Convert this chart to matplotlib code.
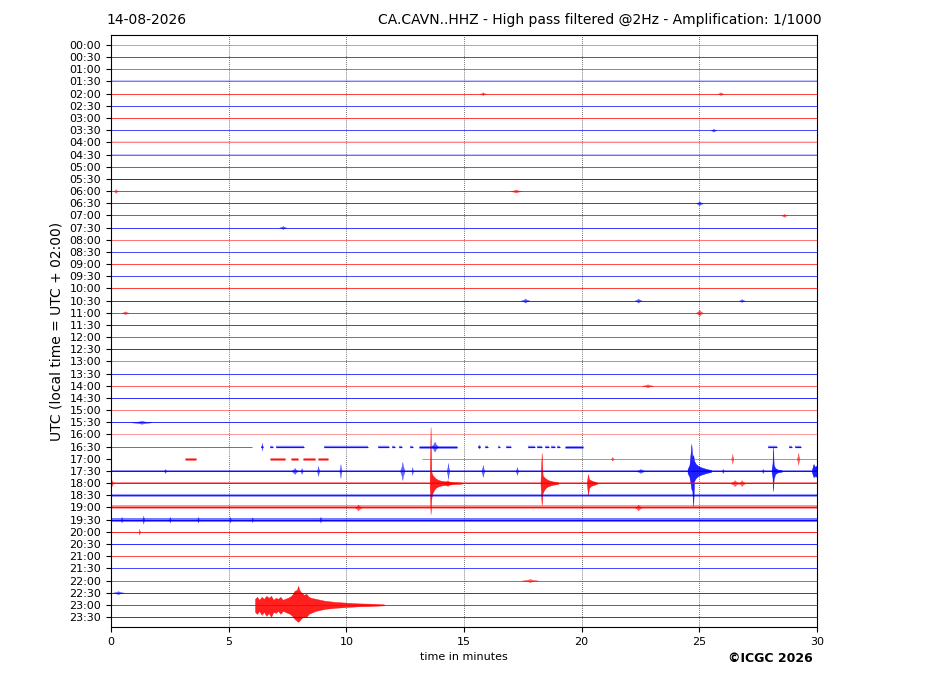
import matplotlib
matplotlib.use("Agg")
import matplotlib.pyplot as plt

# ---------------- data ----------------
date_label = "14-08-2026"
title_right = "CA.CAVN..HHZ - High pass filtered @2Hz - Amplification: 1/1000"
ylabel = "UTC (local time = UTC + 02:00)"
xlabel = "time in minutes"
credit = "\u00a9ICGC 2026"

trace_labels = ["%02d:%02d" % (h, m) for h in range(24) for m in (0, 30)]
x_ticks = [0, 5, 10, 15, 20, 25, 30]
trace_colors = ["#ff0000", "#0000ff"]

# per-trace visual strength of background noise (opacity) and noise level (px)
trace_alpha = [0.45, 0.7, 0.65, 0.4, 0.75, 0.7, 0.75, 0.7, 0.35, 0.45,
               0.8, 0.85, 0.8, 0.75, 0.8, 0.75, 0.55, 0.7, 0.7, 0.7,
               0.75, 0.8, 0.8, 0.75, 0.75, 0.8, 0.55, 0.75, 0.6, 0.8,
               0.5, 0.8, 0.4, 0.7, 0.6, 0.9, 0.9, 0.8, 0.9, 0.95,
               0.85, 0.8, 0.7, 0.7, 0.7, 0.8, 0.85, 0.8]
trace_noise = [0.6, 0.5, 0.6, 1.0, 0.6, 0.5, 0.6, 0.6, 1.0, 0.9,
               0.6, 0.5, 0.6, 0.6, 0.6, 0.6, 0.7, 0.5, 0.6, 0.5,
               0.6, 0.6, 0.6, 0.5, 0.6, 0.6, 0.7, 0.6, 0.7, 0.6,
               0.7, 0.6, 0.7, 0.5, 0.5, 0.9, 0.9, 1.4, 1.8, 2.0,
               0.7, 0.6, 0.6, 0.6, 0.7, 0.7, 0.7, 0.6]

# data segments for traces with gaps: (trace, start, end, noise px)
seg_trace = [33] * 23 + [34] * 6
seg_start = [0.0, 6.38, 6.75, 7.0, 9.05, 11.35, 11.95, 12.25, 12.7, 13.1,
             15.6, 15.9, 16.45, 16.8, 17.7, 18.1, 18.45, 18.7, 18.95, 19.3,
             27.9, 28.8, 29.05,
             3.15, 6.75, 7.65, 8.15, 8.8, 13.2]
seg_end = [6.0, 6.45, 6.9, 8.2, 10.9, 11.8, 12.05, 12.35, 12.85, 14.7,
           15.7, 16.0, 16.52, 17.0, 18.0, 18.3, 18.6, 18.85, 19.1, 20.05,
           28.3, 28.95, 29.3,
           3.6, 7.4, 7.95, 8.65, 9.2, 30.0]
seg_noise = [0.5, 1.2, 1.2, 1.2, 1.2, 1.2, 1.2, 1.2, 1.2, 1.4,
             1.2, 1.2, 1.2, 1.2, 1.2, 1.2, 1.2, 1.2, 1.2, 1.4,
             1.2, 1.2, 1.2,
             1.5, 1.5, 1.5, 1.5, 1.5, 0.5]
seg_alpha = [0.6] + [0.9] * 22 + [0.9] * 5 + [0.55]

# major events: envelope (minutes, px above, px below)
ev_trace = [46, 36, 36, 36, 35, 35, 35]
ev_t = [
    [6.12, 6.2, 6.3, 6.4, 6.5, 6.6, 6.7, 6.8, 6.9, 7.0, 7.1, 7.2, 7.3, 7.4,
     7.5, 7.6, 7.7, 7.8, 7.9, 7.95, 8.0, 8.1, 8.2, 8.3, 8.4, 8.5, 8.7, 8.9,
     9.1, 9.3, 9.5, 9.8, 10.1, 10.5, 11.0, 11.6],
    [13.54, 13.58, 13.61, 13.64, 13.7, 13.78, 13.88, 14.0, 14.2, 14.5, 14.9],
    [18.25, 18.3, 18.34, 18.4, 18.48, 18.58, 18.75, 19.0],
    [20.22, 20.27, 20.31, 20.38, 20.48, 20.65],
    [24.5, 24.58, 24.63, 24.66, 24.7, 24.74, 24.78, 24.85, 24.95, 25.1, 25.3, 25.5],
    [28.07, 28.11, 28.13, 28.16, 28.22, 28.32, 28.5],
    [29.78, 29.85, 29.92, 30.0],
]
ev_up = [
    [6, 8, 5, 8, 6, 9, 7, 9, 5, 7, 6, 8, 5, 6, 7, 8, 10, 14, 15, 19, 15, 12,
     10, 11, 8, 7, 6, 5, 4, 3.5, 3, 2.5, 2, 1.5, 1.2, 0.5],
    [1, 56, 12, 9, 7, 5, 3.5, 2.5, 1.8, 1.1, 0.6],
    [1, 30, 8, 6, 4.5, 3, 1.8, 0.8],
    [1, 9, 4, 3, 2, 0.8],
    [2, 6, 18, 27, 14, 16, 10, 7, 5, 3.5, 2, 1],
    [1, 8, 24, 6, 3, 1.5, 0.8],
    [1, 7, 4, 6],
]
ev_dn = [
    [7, 9, 6, 10, 7, 11, 8, 12, 7, 8, 6, 9, 6, 7, 8, 9, 11, 14, 16, 17, 16,
     13, 12, 12, 9, 8, 6, 5, 4, 3.5, 3, 2.5, 2, 1.5, 1.2, 0.5],
    [1, 31, 16, 11, 8, 5, 3.5, 2.5, 1.8, 1.1, 0.6],
    [1, 22, 10, 7, 4.5, 3, 1.8, 0.8],
    [1, 12, 5, 3, 2, 0.8],
    [2, 6, 13, 18, 20, 35, 10, 7, 5, 3.5, 2, 1],
    [1, 7, 20, 8, 3, 1.5, 0.8],
    [1, 6, 5, 6],
]

# small blips: trace, minute, amplitude (px), half-duration (min)
blip_trace = [35, 35, 35, 35, 35, 35, 35, 35, 35, 35, 35, 35, 35,
              33, 33, 33,
              34, 34, 34,
              36, 36, 36, 36,
              39, 39, 39, 39, 39, 39, 39, 40, 38, 38,
              4, 4, 7, 12, 12, 13, 14, 15, 21, 21, 21, 22, 22, 28, 31, 44, 45]
blip_t = [7.8, 8.1, 8.8, 9.75, 12.38, 12.8, 14.32, 15.8, 17.25, 22.5, 26.0, 27.7, 2.3,
          6.42, 13.75, 15.65,
          26.4, 29.2, 21.3,
          0.05, 26.5, 26.8, 14.3,
          0.45, 1.37, 2.5, 3.7, 5.06, 6.0, 8.9, 1.2, 10.5, 22.4,
          15.8, 25.9, 25.6, 17.2, 0.2, 25.0, 28.6, 7.3, 17.6, 22.4, 26.8, 25.0, 0.6, 22.8, 1.3, 17.8, 0.3]
blip_amp = [3, 3, 5, 7, 9, 4, 8, 6, 4, 2, 2, 2, 2,
            4, 5, 2,
            5, 6, 2,
            3, 3, 3, 3,
            3, 4, 3, 3, 3, 2.5, 3, 3, 3, 3,
            1.5, 1.5, 1.5, 1.5, 2, 2, 1.5, 1.5, 2, 2, 1.5, 3, 1.5, 1.5, 1.5, 1.5, 1.5]
blip_w = [0.15, 0.06, 0.06, 0.05, 0.1, 0.04, 0.06, 0.07, 0.06, 0.2, 0.06, 0.06, 0.06,
          0.03, 0.15, 0.04,
          0.05, 0.06, 0.06,
          0.04, 0.2, 0.15, 0.25,
          0.04, 0.05, 0.04, 0.04, 0.04, 0.04, 0.05, 0.04, 0.15, 0.15,
          0.12, 0.12, 0.12, 0.25, 0.08, 0.15, 0.12, 0.15, 0.18, 0.15, 0.12, 0.15, 0.15, 0.25, 0.45, 0.35, 0.25]

# ---------------- drawing ----------------
PX = 12.17          # pixels between two traces
PT = 0.72           # points per pixel at 100 dpi

fig = plt.figure(figsize=(9.27, 6.96), dpi=100)
ax = fig.add_axes([111 / 927, 69 / 696, 706 / 927, 592 / 696])
n = len(trace_labels)

for i in range(n):
    col = trace_colors[i % 2]
    segs = [(s, e, nz, al) for tr, s, e, nz, al in
            zip(seg_trace, seg_start, seg_end, seg_noise, seg_alpha) if tr == i]
    if not segs:
        segs = [(0.0, 30.0, trace_noise[i], trace_alpha[i])]
    for s, e, nz, al in segs:
        width_px = max(1.0, 2 * nz)
        if width_px > 1.5:
            ax.plot([s, e], [i, i], color=col, lw=width_px * PT, alpha=al * 0.55,
                    solid_capstyle="butt")
        ax.plot([s, e], [i, i], color=col, lw=1.0 * PT, alpha=al,
                solid_capstyle="butt")

for tr, t, up, dn in zip(ev_trace, ev_t, ev_up, ev_dn):
    col = trace_colors[tr % 2]
    ax.fill_between(t, [tr - u / PX for u in up], [tr + d / PX for d in dn],
                    color=col, alpha=0.88, lw=0.3, edgecolor=col)

for tr, t, a, w in zip(blip_trace, blip_t, blip_amp, blip_w):
    col = trace_colors[tr % 2]
    xs = [t - w, t - w * 0.3, t, t + w * 0.3, t + w]
    ys_u = [tr, tr - 0.5 * a / PX, tr - a / PX, tr - 0.5 * a / PX, tr]
    ys_d = [tr, tr + 0.5 * a / PX, tr + a / PX, tr + 0.5 * a / PX, tr]
    ax.fill_between(xs, ys_u, ys_d, color=col, alpha=0.6, lw=0.3, edgecolor=col)

ax.set_xlim(0, 30)
ax.set_ylim(n - 1 + 0.82, -0.82)
ax.set_yticks(range(n))
ax.set_yticklabels(trace_labels, fontsize=8)
ax.set_xticks(x_ticks)
ax.set_xticklabels([str(v) for v in x_ticks], fontsize=8)
for v in x_ticks[1:-1]:
    ax.axvline(v, color="#444444", lw=0.6, ls=(0, (1, 1.5)), zorder=0)
ax.set_xlabel(xlabel, fontsize=8)
ax.set_ylabel(ylabel, fontsize=10)

fig.text(106 / 927, 1 - 20 / 696, date_label, fontsize=10, ha="left", va="center")
fig.text(822 / 927, 1 - 20 / 696, title_right, fontsize=10, ha="right", va="center")
fig.text(770 / 927, 1 - 658 / 696, credit, fontsize=9, fontweight="bold",
         ha="center", va="center")

fig.savefig("out.png", dpi=100)
